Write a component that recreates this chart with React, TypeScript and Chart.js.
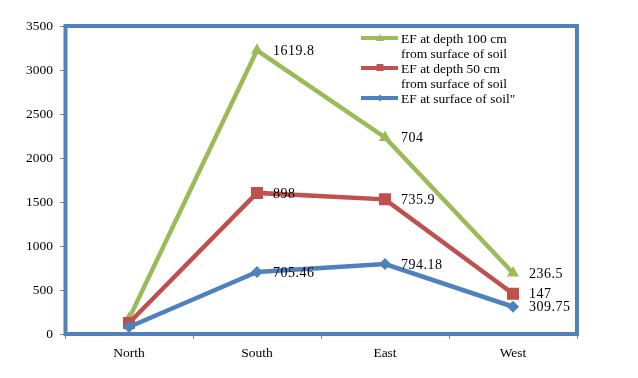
import React, { useEffect, useRef } from "react";
import { Chart, registerables } from "chart.js";

Chart.register(...registerables);

const categories = ["North", "South", "East", "West"];
// stacked series (surface is the base, each depth adds on top)
const surfaceValues = [80, 705.46, 794.18, 309.75];
const depth50Values = [45, 898, 735.9, 147];
const depth100Values = [50, 1619.8, 704, 236.5];
const yTickValues = [0, 500, 1000, 1500, 2000, 2500, 3000, 3500];
const labelledIndices = [1, 2, 3];
const legendSurface = ['EF at surface of soil"'];
const legend50 = ["EF at depth 50 cm", "from surface of soil"];
const legend100 = ["EF at depth 100 cm", "from surface of soil"];

const BLUE = "#4F81BD";
const RED = "#C0504D";
const GREEN = "#9BBB59";
const SERIF = '"Liberation Serif", "Times New Roman", serif';

const framePlugin = {
  id: "frame",
  beforeDatasetsDraw(chart: any) {
    const { ctx, chartArea } = chart;
    ctx.save();
    ctx.strokeStyle = BLUE;
    ctx.lineWidth = 4;
    ctx.strokeRect(chartArea.left + 0.5, chartArea.top, chartArea.right - chartArea.left - 0.5, chartArea.bottom - chartArea.top);
    ctx.restore();
  },
};

const valueLabelPlugin = {
  id: "valueLabels",
  afterDatasetsDraw(chart: any) {
    const { ctx } = chart;
    ctx.save();
    ctx.font = `14px ${SERIF}`;
    (ctx as any).letterSpacing = "0.5px";
    ctx.fillStyle = "#000";
    ctx.textAlign = "left";
    ctx.textBaseline = "middle";
    chart.data.datasets.forEach((ds: any, di: number) => {
      const meta = chart.getDatasetMeta(di);
      labelledIndices.forEach((i) => {
        const el = meta.data[i];
        if (!el) return;
        ctx.fillText(String(ds.data[i]), el.x + 16, el.y + 1);
      });
    });
    ctx.restore();
  },
};

function drawMarker(ctx: CanvasRenderingContext2D, style: string, x: number, y: number, color: string) {
  ctx.fillStyle = color;
  ctx.beginPath();
  if (style === "triangle") {
    ctx.moveTo(x, y - 4);
    ctx.lineTo(x + 4, y + 3);
    ctx.lineTo(x - 4, y + 3);
  } else if (style === "rect") {
    ctx.rect(x - 3.5, y - 4, 7, 7);
  } else {
    ctx.moveTo(x, y - 3.5);
    ctx.lineTo(x + 3.5, y);
    ctx.lineTo(x, y + 3.5);
    ctx.lineTo(x - 3.5, y);
  }
  ctx.closePath();
  ctx.fill();
}

const legendPlugin = {
  id: "customLegend",
  afterDraw(chart: any) {
    const { ctx } = chart;
    const entries = [
      { lines: legend100, color: GREEN, marker: "triangle" },
      { lines: legend50, color: RED, marker: "rect" },
      { lines: legendSurface, color: BLUE, marker: "rectRot" },
    ];
    ctx.save();
    ctx.font = `13.5px ${SERIF}`;
    ctx.textAlign = "left";
    ctx.textBaseline = "middle";
    let y = 39;
    const lineH = 15;
    entries.forEach((e) => {
      ctx.strokeStyle = e.color;
      ctx.lineWidth = 4;
      ctx.beginPath();
      ctx.moveTo(361, y - 1);
      ctx.lineTo(398, y - 1);
      ctx.stroke();
      drawMarker(ctx, e.marker, 380, y - 1, e.color);
      ctx.fillStyle = "#000";
      e.lines.forEach((t, k) => {
        ctx.fillText(t, 401, y + k * lineH);
      });
      y += e.lines.length * lineH;
    });
    ctx.restore();
  },
};

export default function App() {
  const ref = useRef<HTMLCanvasElement | null>(null);
  useEffect(() => {
    document.body.style.margin = "0";
    const canvas = ref.current;
    if (!canvas) return;
    const chart = new Chart(canvas, {
      type: "line",
      data: {
        labels: categories,
        datasets: [
          {
            label: legendSurface.join(" "),
            data: surfaceValues,
            borderColor: BLUE,
            backgroundColor: BLUE,
            borderWidth: 4.5,
            pointStyle: "rectRot",
            pointRadius: 6,
            pointBorderWidth: 0,
            tension: 0,
          },
          {
            label: legend50.join(" "),
            data: depth50Values,
            borderColor: RED,
            backgroundColor: RED,
            borderWidth: 4.5,
            pointStyle: "rect",
            pointRadius: 8.5,
            pointBorderWidth: 0,
            tension: 0,
          },
          {
            label: legend100.join(" "),
            data: depth100Values,
            borderColor: GREEN,
            backgroundColor: GREEN,
            borderWidth: 4.5,
            pointStyle: "triangle",
            pointRadius: 7,
            pointBorderWidth: 0,
            tension: 0,
          },
        ],
      },
      options: {
        responsive: false,
        animation: false,
        layout: { padding: { top: 26, right: 61, left: 0, bottom: 0 } },
        plugins: { legend: { display: false }, tooltip: { enabled: false } },
        scales: {
          x: {
            type: "category",
            offset: true,
            grid: { offset: true, drawOnChartArea: false, tickLength: 5, color: "#868686" },
            border: { display: false },
            ticks: { font: { family: SERIF, size: 13.5 }, color: "#000", padding: 6 },
            afterFit(scale: any) {
              scale.height = 44;
            },
          },
          y: {
            stacked: true,
            min: 0,
            max: 3500,
            grid: { drawOnChartArea: false, tickLength: 5, color: "#868686" },
            border: { display: false },
            ticks: {
              font: { family: SERIF, size: 13.5 },
              color: "#000",
              padding: 7,
              callback: (v: any) => String(v),
            },
            afterBuildTicks(scale: any) {
              scale.ticks = yTickValues.map((v) => ({ value: v }));
            },
            afterFit(scale: any) {
              scale.width = 65;
            },
          },
        },
      },
      plugins: [framePlugin, valueLabelPlugin, legendPlugin],
    } as any);
    return () => chart.destroy();
  }, []);
  return <canvas ref={ref} width={638} height={378} style={{ display: "block" }} />;
}
